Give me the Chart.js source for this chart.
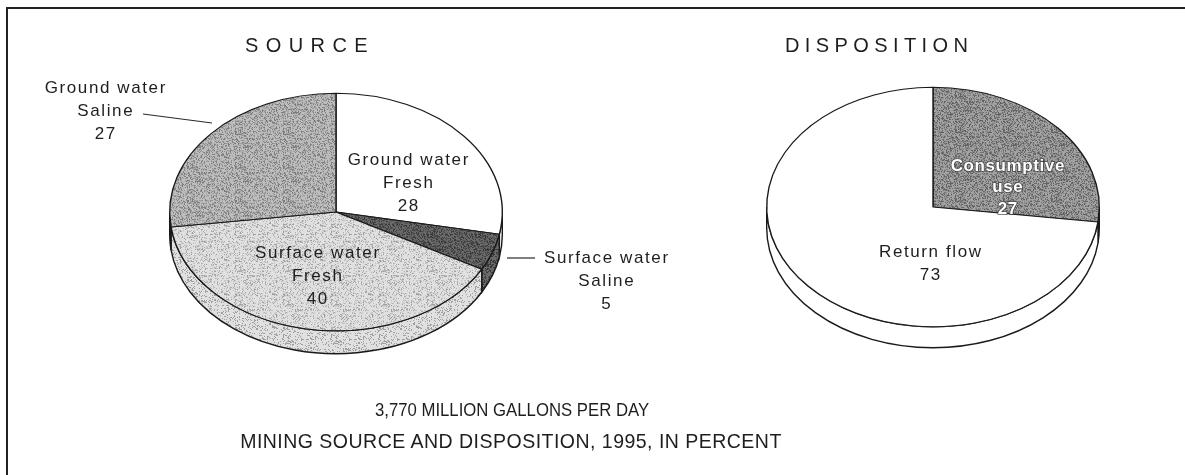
<!DOCTYPE html>
<html>
<head>
<meta charset="utf-8">
<script src="https://cdn.jsdelivr.net/npm/chart.js@4.4.1/dist/chart.umd.min.js"></script>
<style>
  body { margin: 0; background: #fff; }
  #wrap { position: relative; width: 1185px; height: 475px; overflow: hidden;
          font-family: "Liberation Sans", Arial, sans-serif; color: #1e1e1e; }
  #frame { position: absolute; left: 6px; top: 7px; width: 1200px; height: 500px;
           border-top: 2px solid #222; border-left: 2px solid #222; }
  canvas { position: absolute; left: 0; top: 0; }
  .title { position: absolute; top: 34px; font-size: 20px; line-height: 22px;
           white-space: nowrap; }
  .caption { position: absolute; white-space: nowrap; line-height: 1;
             transform: translate(-50%, -50%) scaleX(0.93); }
</style>
</head>
<body>
<div id="wrap">
  <div id="frame"></div>
  <canvas id="sourceChart" width="1185" height="475"></canvas>
  <canvas id="dispChart" width="1185" height="475"></canvas>
  <div class="title" style="left:245px; letter-spacing:7.4px">SOURCE</div>
  <div class="title" style="left:785px; letter-spacing:5.4px">DISPOSITION</div>
  <div class="caption" style="left:512px; top:410px; font-size:18px">3,770 MILLION GALLONS PER DAY</div>
  <div class="caption" style="left:511px; top:440px; font-size:21px; letter-spacing:0.5px">MINING SOURCE AND DISPOSITION, 1995, IN PERCENT</div>
</div>
<script>
// source of water, percent
const sourceNames = [['Ground water', 'Fresh'], ['Surface water', 'Saline'], ['Surface water', 'Fresh'], ['Ground water', 'Saline']];
const sourceValues = [28, 5, 40, 27];

// disposition, percent
const dispNames = [['Consumptive', 'use'], ['Return flow']];
const dispValues = [27, 73];

// speckled fill, like the halftone shading of the printed figure
function stipple(base, dot, amount) {
  const c = document.createElement('canvas');
  c.width = c.height = 48;
  const g = c.getContext('2d');
  g.fillStyle = base;
  g.fillRect(0, 0, 48, 48);
  g.fillStyle = dot;
  for (let i = 0; i < 48; i++) {
    for (let j = 0; j < 48; j++) {
      const h = Math.sin(i * 12.9898 + j * 78.233) * 43758.5453;
      if (h - Math.floor(h) < amount) g.fillRect(i, j, 1, 1);
    }
  }
  return g.createPattern(c, 'repeat');
}

const white = '#ffffff';
const lightSpeck = stipple('#e0e0e0', '#a0a0a0', 0.22);
const midSpeck = stipple('#bdbdbd', '#7c7c7c', 0.33);
const darkSpeck = stipple('#6a6a6a', '#3a3a3a', 0.4);
const consSpeck = stipple('#a2a2a2', '#606060', 0.36);

// squash the pie into an ellipse and give it a rim
const tilt = {
  id: 'tilt',
  beforeDatasetsDraw(chart, args, opts) {
    const ctx = chart.ctx;
    const arcs = chart.getDatasetMeta(0).data;
    const {x, y} = arcs[0];
    arcs.forEach(arc => {
      const a0 = Math.max(arc.startAngle, 0);
      const a1 = Math.min(arc.endAngle, Math.PI);
      if (a1 <= a0) return;
      const r = arc.outerRadius;
      ctx.save();
      ctx.beginPath();
      ctx.ellipse(x, y, r, r * opts.ratio, 0, a0, a1);
      ctx.ellipse(x, y + opts.depth, r, r * opts.ratio, 0, a1, a0, true);
      ctx.closePath();
      ctx.fillStyle = arc.options.backgroundColor;
      ctx.fill();
      ctx.lineWidth = 1.4;
      ctx.strokeStyle = '#1a1a1a';
      ctx.stroke();
      ctx.restore();
    });
    ctx.save();
    ctx.translate(x, y);
    ctx.scale(1, opts.ratio);
    ctx.translate(-x, -y);
  },
  afterDatasetsDraw(chart) {
    chart.ctx.restore();
  }
};

// slice names and percentages, placed relative to the pie centre
const sliceText = {
  id: 'sliceText',
  afterDraw(chart, args, opts) {
    const ctx = chart.ctx;
    const arcs = chart.getDatasetMeta(0).data;
    const {x, y} = arcs[0];
    const values = chart.data.datasets[0].data;
    ctx.save();
    ctx.textAlign = 'center';
    ctx.textBaseline = 'middle';
    chart.data.labels.forEach((name, i) => {
      const pos = opts.places[i];
      const inverted = pos[2];
      const step = pos[3] || 23;
      const lines = name.concat(String(values[i]));
      ctx.font = (inverted ? 'bold ' : '') + '17px "Liberation Sans", Arial, sans-serif';
      ctx.letterSpacing = inverted ? '0.6px' : '1.6px';
      lines.forEach((t, k) => {
        const tx = x + pos[0] + 0.8, ty = y + pos[1] + k * step;
        if (inverted) {
          ctx.lineWidth = 1.6;
          ctx.strokeStyle = 'rgba(60,60,60,0.85)';
          ctx.strokeText(t, tx, ty);
          ctx.fillStyle = '#ffffff';
        } else {
          ctx.fillStyle = '#1e1e1e';
        }
        ctx.fillText(t, tx, ty);
      });
    });
    ctx.lineWidth = 1.2;
    ctx.strokeStyle = '#2a2a2a';
    (opts.leaders || []).forEach(l => {
      ctx.beginPath();
      ctx.moveTo(x + l[0], y + l[1]);
      ctx.lineTo(x + l[2], y + l[3]);
      ctx.stroke();
    });
    ctx.restore();
  }
};

function pieConfig(names, values, colors, padding, tiltOpts, textOpts) {
  return {
    type: 'pie',
    data: {
      labels: names,
      datasets: [{
        data: values,
        backgroundColor: colors,
        borderColor: '#1a1a1a',
        borderWidth: 1.4,
        hoverOffset: 0,
        clip: false
      }]
    },
    options: {
      responsive: false,
      animation: false,
      events: [],
      layout: { padding: padding },
      plugins: {
        legend: { display: false },
        tooltip: { enabled: false },
        tilt: tiltOpts,
        sliceText: textOpts
      }
    },
    plugins: [tilt, sliceText]
  };
}

new Chart(document.getElementById('sourceChart'), pieConfig(
  sourceNames, sourceValues,
  [white, darkSpeck, lightSpeck, midSpeck],
  { left: 169, top: 45, right: 682, bottom: 96 },
  { ratio: 0.714, depth: 23 },
  {
    places: [[72, -52], [270, 46], [-19, 41], [-231, -124]],
    leaders: [[-193, -98, -124, -89], [171, 46, 199, 46]]
  }
));

new Chart(document.getElementById('dispChart'), pieConfig(
  dispNames, dispValues,
  [consSpeck, white],
  { left: 766, top: 40, right: 85, bottom: 101 },
  { ratio: 0.72, depth: 21 },
  {
    places: [[74, -41, true, 21.5], [-3, 45]]
  }
));
</script>
</body>
</html>
